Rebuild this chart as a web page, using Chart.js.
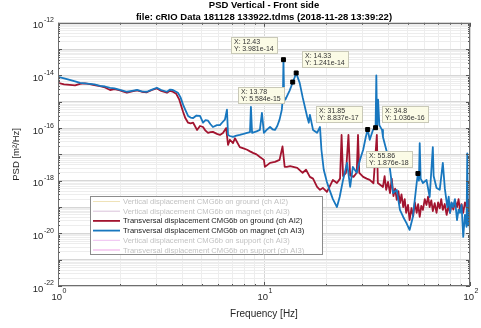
<!DOCTYPE html>
<html>
<head>
<meta charset="utf-8">
<title>PSD Vertical - Front side</title>
<script src="https://cdn.jsdelivr.net/npm/chart.js@4.4.1/dist/chart.umd.min.js"></script>
<style>
  html, body { margin: 0; padding: 0; background: #ffffff; }
  canvas { display: block; }
</style>
</head>
<body>
<canvas id="psd" width="481" height="328"></canvas>
<script>
// ---- spectra (frequency in Hz, PSD in m^2/Hz) ----
const freqMagnetT = [1.00, 1.07, 1.14, 1.21, 1.28, 1.35, 1.43, 1.50, 1.60, 1.69, 1.79, 1.88, 2.00, 2.08, 2.16, 2.29, 2.42, 2.55, 2.70, 2.86,
  3.02, 3.17, 3.38, 3.50, 3.61, 3.82, 3.93, 4.05, 4.15, 4.28, 4.40, 4.53, 4.70, 4.89, 5.06, 5.20, 5.35, 5.50, 5.65, 5.91,
  6.11, 6.30, 6.46, 6.61, 6.69, 6.83, 7.07, 7.35, 7.63, 7.95, 8.28, 8.55, 8.64, 8.75, 9.20, 9.55, 9.77, 9.99, 10.3, 10.7,
  11.0, 11.3, 11.6, 11.9, 12.2, 12.35, 12.43, 12.52, 12.7, 13.0, 13.3, 13.5, 13.78, 14.05, 14.33, 14.9, 15.4, 16.2, 16.5, 16.7,
  17.3, 18.1, 18.7, 19.0, 19.5, 20.2, 20.8, 21.6, 22.6, 23.3, 24.2, 25.3, 26.2, 27.0, 28.2, 29.2, 30.3, 31.2, 31.85, 32.6,
  33.8, 34.8, 35.1, 35.4, 35.8, 36.3, 37.4, 37.8, 39.6, 40.9, 42.3, 44.1, 45.7, 47.4, 49.1, 50.9, 52.8, 55.1, 55.86, 56.5,
  57.0, 57.6, 59.1, 61.5, 63.7, 66.0, 66.6, 68.8, 71.3, 73.8, 75.5, 77.6, 78.8, 80.0, 81.3, 82.7, 84.5, 86.5, 88.0, 89.4,
  91.0, 92.7, 94.5, 96.2, 97.0, 97.8, 99.0, 100];
const psdMagnetT = [8.9e-15, 7.8e-15, 6.8e-15, 6.0e-15, 5.2e-15, 5.0e-15, 4.8e-15, 4.6e-15, 4.0e-15, 3.8e-15, 3.4e-15, 3.2e-15, 2.8e-15, 2.6e-15, 2.4e-15, 2.6e-15, 2.8e-15, 2.5e-15, 2.4e-15, 2.9e-15,
  3.4e-15, 2.8e-15, 2.4e-15, 2.9e-15, 2.8e-15, 2.2e-15, 1.5e-15, 7.6e-16, 4.9e-16, 2.9e-16, 2.5e-16, 2.4e-16, 3.0e-16, 2.9e-16, 1.6e-16, 2.0e-16, 1.9e-16, 1.4e-16, 1.1e-16, 1.3e-16,
  1.3e-16, 1.7e-16, 2.1e-16, 5.0e-16, 5.5e-17, 5.0e-17, 4.6e-17, 5.2e-17, 5.5e-17, 6.0e-17, 6.6e-17, 7.0e-17, 6.4e-16, 6.6e-17, 7.5e-17, 8.5e-17, 3.8e-16, 6.6e-17, 8.5e-17, 1.1e-16,
  9.0e-17, 8.5e-17, 1.2e-16, 2.1e-16, 4.9e-16, 1.5e-15, 3.981e-14, 1.5e-15, 1.2e-15, 1.8e-15, 2.6e-15, 3.5e-15, 5.584e-15, 8.0e-15, 1.241e-14, 5.2e-15, 1.5e-15, 2.7e-16, 1.6e-16, 3.2e-16,
  8.5e-17, 6.6e-17, 1.1e-16, 1.5e-17, 2.6e-18, 9.0e-19, 4.5e-19, 2.0e-19, 1.0e-19, 2.4e-19, 1.07e-18, 4.75e-18, 5.8e-19, 3.35e-18, 2.0e-18, 6.0e-18, 1.5e-17, 4.6e-17, 8.837e-17, 3.6e-17,
  8.5e-17, 1.036e-16, 1.0e-14, 1.0e-16, 1.2e-15, 1.3e-16, 8.5e-17, 4.6e-17, 1.14e-17, 2.7e-18, 3.4e-19, 4.5e-19, 7.8e-20, 4.2e-20, 2.5e-20, 1.35e-20, 4.2e-20, 8.2e-19, 1.876e-18, 1.0e-18,
  2.7e-17, 1.2e-18, 8.2e-19, 1.07e-18, 2.4e-19, 1.9e-17, 1.5e-18, 5.3e-19, 4.5e-19, 4.75e-18, 5.0e-19, 1.0e-19, 2.5e-19, 6.0e-20, 1.5e-19, 1.0e-19, 2.0e-19, 3.2e-20, 8.0e-20, 6.0e-20,
  1.2e-19, 7.3e-21, 5.0e-20, 1.75e-20, 1.1e-17, 2.0e-20, 6.0e-20, 1.03e-20];

const freqGroundT = [1.00, 1.07, 1.14, 1.21, 1.28, 1.35, 1.43, 1.50, 1.60, 1.69, 1.79, 1.88, 2.00, 2.08, 2.16, 2.29, 2.42, 2.55, 2.70, 2.86,
  3.02, 3.17, 3.38, 3.50, 3.61, 3.75, 3.88, 4.05, 4.15, 4.28, 4.40, 4.53, 4.73, 4.89, 5.06, 5.20, 5.35, 5.50, 5.65, 5.91,
  6.11, 6.32, 6.46, 6.55, 6.69, 6.83, 7.07, 7.23, 7.63, 7.95, 8.28, 8.55, 8.84, 9.20, 9.55, 9.99, 10.1, 10.4, 10.7, 11.3,
  11.9, 12.3, 12.6, 12.9, 13.4, 14.5, 15.4, 16.0, 16.7, 17.3, 18.1, 18.7, 19.3, 20.2, 20.8, 21.6, 22.6, 23.4, 23.8, 24.2,
  25.0, 25.7, 26.2, 27.2, 28.2, 28.6, 29.0, 30.3, 31.5, 32.6, 34.0, 35.3, 35.7, 37.8, 38.5, 39.2, 40.0, 40.9, 41.7, 42.5,
  43.3, 44.1, 44.9, 45.7, 46.5, 47.4, 48.2, 49.0, 50.0, 50.9, 52.0, 53.0, 54.0, 55.1, 56.0, 57.0, 58.0, 59.1, 60.3, 61.5,
  62.6, 63.7, 64.9, 66.0, 67.4, 68.8, 70.0, 71.3, 72.5, 73.8, 75.4, 77.0, 78.5, 80.0, 81.5, 83.0, 84.7, 86.5, 88.0, 89.5,
  91.0, 92.7, 94.5, 96.2, 97.5, 98.5, 99.3, 100];
const psdGroundT = [5.2e-15, 4.6e-15, 4.4e-15, 4.2e-15, 4.8e-15, 5.0e-15, 4.7e-15, 4.3e-15, 3.9e-15, 3.5e-15, 2.8e-15, 3.0e-15, 2.7e-15, 2.4e-15, 2.2e-15, 2.5e-15, 2.7e-15, 2.4e-15, 2.3e-15, 2.8e-15,
  3.2e-15, 2.6e-15, 2.2e-15, 2.6e-15, 2.4e-15, 2.0e-15, 1.2e-15, 4.1e-16, 2.4e-16, 1.6e-16, 1.5e-16, 1.6e-16, 8.5e-17, 1.2e-16, 1.1e-16, 8.0e-17, 6.6e-17, 7.0e-17, 7.2e-17, 6.0e-17,
  5.5e-17, 6.5e-17, 8.5e-17, 1.0e-16, 2.3e-17, 3.6e-17, 2.7e-17, 4.1e-17, 1.9e-17, 1.7e-17, 1.5e-17, 1.3e-17, 1.14e-17, 1.0e-17, 8.0e-18, 6.2e-18, 3.35e-18, 4.0e-18, 4.75e-18, 5.2e-18,
  6.2e-18, 2.0e-17, 3.35e-18, 3.35e-18, 3.6e-18, 3.1e-18, 2.0e-18, 2.6e-18, 1.4e-18, 1.2e-18, 5.8e-19, 4.5e-19, 5.3e-19, 3.75e-19, 5.8e-19, 1.07e-18, 8.2e-19, 1.2e-18, 5.5e-17, 1.5e-18,
  2.0e-18, 5.5e-17, 1.6e-18, 1.4e-18, 2.0e-18, 5.5e-17, 2.0e-18, 1.4e-18, 1.2e-18, 1.07e-18, 8.0e-19, 5.5e-17, 8.2e-19, 5.8e-19, 1.5e-18, 4.5e-19, 9.0e-19, 3.4e-19, 1.2e-18, 2.6e-19,
  5.0e-19, 1.86e-19, 4.0e-19, 1.4e-19, 3.0e-19, 1.0e-19, 2.0e-19, 6.0e-20, 1.2e-19, 3.2e-20, 9.0e-20, 4.5e-20, 1.5e-19, 6.0e-20, 1.3e-19, 4.2e-20, 1.1e-19, 7.8e-20, 2.0e-19, 1.2e-19,
  2.5e-19, 1.0e-19, 1.8e-19, 7.0e-20, 1.4e-19, 6.0e-20, 1.5e-19, 9.0e-20, 2.0e-19, 7.8e-20, 1.3e-19, 5.0e-20, 1.1e-19, 6.0e-20, 1.4e-19, 8.0e-20, 1.7e-19, 1.0e-19, 2.0e-19, 7.0e-20,
  1.3e-19, 6.0e-20, 1.5e-19, 1.0e-19, 1.8e-19, 4.0e-20, 1.0e-19, 5.8e-19];

// ---- data tips on the magnet spectrum ----
const tipFreq = [12.43, 14.33, 13.78, 31.85, 34.8, 55.86];
const tipPsd  = [3.981e-14, 1.241e-14, 5.584e-15, 8.837e-17, 1.036e-16, 1.876e-18];

// ---- axis ranges and labelled decades ----
const xRange = [1, 100];
const yRange = [1e-22, 1e-12];
const xLabelExponents = [0, 1, 2];
const yLabelExponents = [-12, -14, -16, -18, -20, -22];

const titleLines = ['PSD Vertical - Front side', 'file: cRIO Data 181128 133922.tdms (2018-11-28 13:39:22)'];
const legendLabels = [
  'Vertical displacement CMG6b on ground (ch AI2)',
  'Vertical displacement CMG6b on magnet (ch AI3)',
  'Transversal displacement CMG6b on ground (ch AI2)',
  'Transversal displacement CMG6b on magnet (ch AI3)',
  'Vertical displacement CMG6b on support (ch AI3)',
  'Transversal displacement CMG6b on support (ch AI3)'
];

const FONT = '"Liberation Sans", Arial, Helvetica, sans-serif';

function toPoints(xs, ys) { return xs.map((x, i) => ({ x: x, y: ys[i] })); }

// 1..9 x 10^e for every decade in the range, used for grid lines and tick marks
function logGrid(lo, hi) {
  const out = [];
  const e0 = Math.round(Math.log10(lo)), e1 = Math.round(Math.log10(hi));
  for (let e = e0; e < e1; e++) {
    for (let m = 1; m <= 9; m++) out.push(Number(m + 'e' + e));
  }
  out.push(Number('1e' + e1));
  return out;
}
function isDecade(v) {
  const l = Math.log10(v);
  return Math.abs(l - Math.round(l)) < 1e-6;
}

const xGrid = logGrid(xRange[0], xRange[1]);
const yGrid = logGrid(yRange[0], yRange[1]);

// paints the figure white
const background = {
  id: 'background',
  beforeDraw(chart) {
    const ctx = chart.ctx;
    ctx.save();
    ctx.fillStyle = '#ffffff';
    ctx.fillRect(0, 0, chart.width, chart.height);
    ctx.restore();
  }
};

// "10" with a raised exponent
function drawPower(ctx, exp, x, yBase, ySup, align) {
  const base = '10', sup = String(exp);
  ctx.font = '9.5px ' + FONT;
  const wb = ctx.measureText(base).width;
  ctx.font = '7px ' + FONT;
  const ws = ctx.measureText(sup).width;
  const total = wb + ws + 0.5;
  let x0 = align === 'right' ? x - total : x - total / 2;
  ctx.textAlign = 'left';
  ctx.textBaseline = 'middle';
  ctx.font = '9.5px ' + FONT;
  ctx.fillText(base, x0, yBase);
  ctx.font = '7px ' + FONT;
  ctx.fillText(sup, x0 + wb + 0.5, ySup);
}

// axes box, inner tick marks and power-of-ten labels
const axesDecor = {
  id: 'axesDecor',
  afterDraw(chart) {
    const ctx = chart.ctx;
    const xs = chart.scales.x, ys = chart.scales.y;
    const a = chart.chartArea;
    ctx.save();
    ctx.strokeStyle = '#555555';
    ctx.lineWidth = 1;
    ctx.beginPath();
    xGrid.forEach(v => {
      const px = Math.round(xs.getPixelForValue(v)) + 0.5;
      const len = isDecade(v) ? 4 : 2;
      ctx.moveTo(px, a.bottom); ctx.lineTo(px, a.bottom - len);
      ctx.moveTo(px, a.top); ctx.lineTo(px, a.top + len);
    });
    yGrid.forEach(v => {
      const py = Math.round(ys.getPixelForValue(v)) + 0.5;
      const len = isDecade(v) ? 4 : 2;
      ctx.moveTo(a.left, py); ctx.lineTo(a.left + len, py);
      ctx.moveTo(a.right, py); ctx.lineTo(a.right - len, py);
    });
    ctx.stroke();

    ctx.strokeStyle = '#6e6e6e';
    ctx.strokeRect(Math.round(a.left) + 0.5, Math.round(a.top) + 0.5,
      Math.round(a.right - a.left) - 1, Math.round(a.bottom - a.top) - 1);

    ctx.fillStyle = '#262626';
    xLabelExponents.forEach(e => {
      const px = xs.getPixelForValue(Number('1e' + e));
      drawPower(ctx, e, px + 1, a.bottom + 11, a.bottom + 5.5, 'center');
    });
    yLabelExponents.forEach(e => {
      const py = ys.getPixelForValue(Number('1e' + e));
      drawPower(ctx, e, a.left - 4, py + 3, py - 2.5, 'right');
    });
    ctx.restore();
  }
};

// legend box inside the axes
const legendBox = {
  id: 'legendBox',
  afterDraw(chart) {
    const ctx = chart.ctx;
    const sets = chart.data.datasets.filter(d => d.inLegend);
    const bx = 90, by = 196, bw = 232, bh = 58, row = 9.7;
    ctx.save();
    ctx.fillStyle = '#ffffff';
    ctx.fillRect(bx, by, bw, bh);
    ctx.strokeStyle = '#8c8c8c';
    ctx.lineWidth = 1;
    ctx.strokeRect(bx + 0.5, by + 0.5, bw, bh);
    ctx.font = '7.6px ' + FONT;
    ctx.textAlign = 'left';
    ctx.textBaseline = 'middle';
    sets.forEach((d, i) => {
      const y = by + 5.5 + i * row;
      const active = d.data.length > 0;
      ctx.strokeStyle = d.borderColor;
      ctx.lineWidth = active ? 1.8 : 1;
      ctx.beginPath();
      ctx.moveTo(bx + 3, y); ctx.lineTo(bx + 30, y);
      ctx.stroke();
      ctx.fillStyle = active ? '#1a1a1a' : '#c2c2c2';
      ctx.fillText(d.label, bx + 33, y + 0.5);
    });
    ctx.restore();
  }
};

// yellow data-tip boxes next to the marked points
const tipCorners = ['nw', 'ne', 'sw', 'nw', 'ne', 'nw'];
const dataTips = {
  id: 'dataTips',
  afterDraw(chart) {
    const ctx = chart.ctx;
    const xs = chart.scales.x, ys = chart.scales.y;
    ctx.save();
    ctx.font = '7px ' + FONT;
    ctx.textAlign = 'left';
    ctx.textBaseline = 'middle';
    tipFreq.forEach((f, i) => {
      const px = xs.getPixelForValue(f);
      const py = ys.getPixelForValue(tipPsd[i]);
      const l1 = 'X: ' + f;
      const l2 = 'Y: ' + tipPsd[i].toExponential(3);
      const w = Math.ceil(Math.max(ctx.measureText(l1).width, ctx.measureText(l2).width)) + 7;
      const h = 17;
      let bx, by;
      if (tipCorners[i] === 'nw') { bx = px - 5 - w; by = py - 6 - h; }
      else if (tipCorners[i] === 'ne') { bx = px + 6; by = py - 5 - h; }
      else { bx = px - 8 - w; by = py + 5; }
      bx = Math.round(bx); by = Math.round(by);
      ctx.fillStyle = '#fbfbe6';
      ctx.fillRect(bx, by, w, h);
      ctx.strokeStyle = '#c9c9b8';
      ctx.lineWidth = 1;
      ctx.strokeRect(bx + 0.5, by + 0.5, w - 1, h - 1);
      ctx.fillStyle = '#333333';
      ctx.fillText(l1, bx + 3, by + 5.5);
      ctx.fillText(l2, bx + 3, by + 12.5);
    });
    ctx.restore();
  }
};

const lineBase = { pointRadius: 0, borderWidth: 1.8, tension: 0, fill: false, inLegend: true, borderJoinStyle: 'round' };

const chart = new Chart(document.getElementById('psd'), {
  type: 'line',
  data: {
    datasets: [
      Object.assign({}, lineBase, { label: legendLabels[0], data: [], borderColor: '#efe2b8', order: 5 }),
      Object.assign({}, lineBase, { label: legendLabels[1], data: [], borderColor: '#d9c3da', order: 5 }),
      Object.assign({}, lineBase, { label: legendLabels[2], data: toPoints(freqGroundT, psdGroundT), borderColor: '#A2142F', order: 2 }),
      Object.assign({}, lineBase, { label: legendLabels[3], data: toPoints(freqMagnetT, psdMagnetT), borderColor: '#1877BF', order: 1 }),
      Object.assign({}, lineBase, { label: legendLabels[4], data: [], borderColor: '#eebdf0', order: 5 }),
      Object.assign({}, lineBase, { label: legendLabels[5], data: [], borderColor: '#eea3e6', order: 5 }),
      {
        label: 'tips', inLegend: false, data: toPoints(tipFreq, tipPsd), showLine: false,
        pointStyle: 'rect', pointRadius: 2.8, pointBackgroundColor: '#000000', pointBorderColor: '#000000',
        pointBorderWidth: 1, order: 0
      }
    ]
  },
  options: {
    responsive: false,
    devicePixelRatio: 1,
    animation: false,
    events: [],
    layout: { padding: { left: 0, right: 11, top: 0, bottom: 0 } },
    plugins: {
      legend: { display: false },
      tooltip: { enabled: false },
      title: {
        display: true,
        fullSize: false,
        text: titleLines,
        color: '#000000',
        font: { family: FONT, size: 9.5, weight: 'bold', lineHeight: 1.2 },
        padding: { top: 0, bottom: 0 }
      }
    },
    scales: {
      x: {
        type: 'logarithmic',
        position: 'bottom',
        min: xRange[0], max: xRange[1],
        afterBuildTicks: s => { s.ticks = xGrid.map(v => ({ value: v })); },
        afterFit: s => { s.height = 42; },
        ticks: { display: false },
        grid: {
          drawTicks: false,
          lineWidth: 1,
          color: c => (c.tick && isDecade(c.tick.value)) ? '#d6d6d6' : '#ededed'
        },
        border: { display: false },
        title: {
          display: true, text: 'Frequency [Hz]', color: '#262626',
          font: { family: FONT, size: 10, lineHeight: 1.2 },
          padding: { top: 0, bottom: 8 }
        }
      },
      y: {
        type: 'logarithmic',
        position: 'left',
        min: yRange[0], max: yRange[1],
        afterBuildTicks: s => { s.ticks = yGrid.map(v => ({ value: v })); },
        afterFit: s => { s.width = 58; },
        ticks: { display: false },
        grid: {
          drawTicks: false,
          lineWidth: 1,
          color: c => (c.tick && isDecade(c.tick.value)) ? '#d6d6d6' : '#ededed'
        },
        border: { display: false },
        title: {
          display: true, text: 'PSD [m²/Hz]', color: '#262626',
          font: { family: FONT, size: 9.5, lineHeight: 1.2 },
          padding: { top: 11, bottom: 0 }
        }
      }
    }
  },
  plugins: [background, axesDecor, legendBox, dataTips]
});
</script>
</body>
</html>
